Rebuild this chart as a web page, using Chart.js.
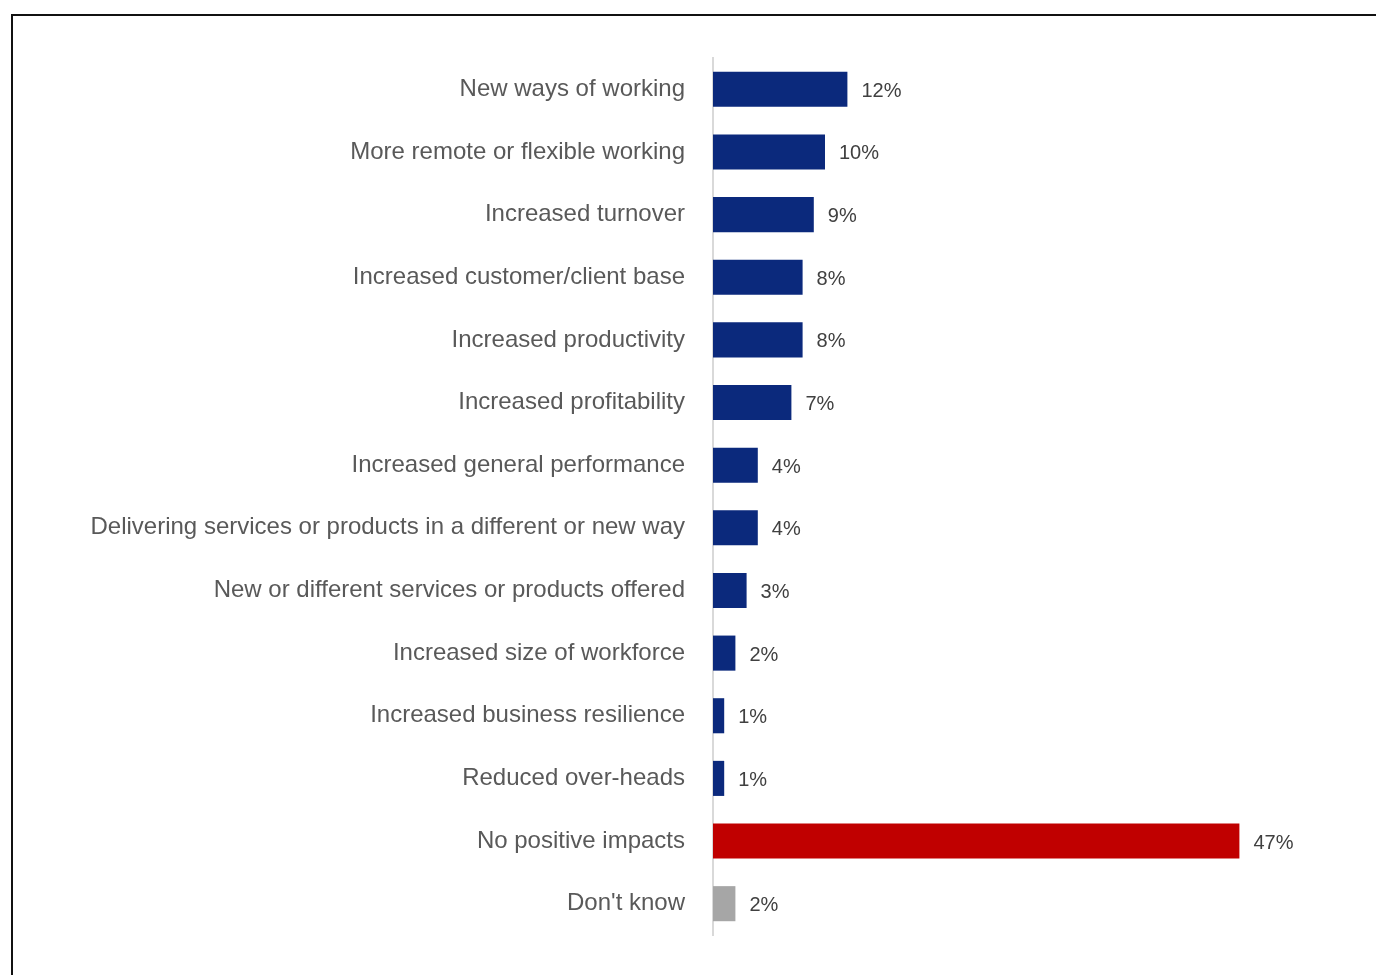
<!DOCTYPE html>
<html>
<head>
<meta charset="utf-8">
<script src="https://cdn.jsdelivr.net/npm/chart.js@4/dist/chart.umd.min.js"></script>
<style>
  html, body { margin: 0; padding: 0; background: #fff; }
  body { width: 1376px; height: 975px; position: relative; overflow: hidden; }
  .frame { position: absolute; left: 11px; top: 14px; width: 1400px; height: 1000px;
           border-left: 2px solid #111; border-top: 2px solid #111; box-sizing: border-box; }
  #wrap { position: absolute; left: 0; top: 0; width: 1376px; height: 975px; }
</style>
</head>
<body>
<div class="frame"></div>
<div id="wrap"><canvas id="chart" width="1376" height="975"></canvas></div>
<script>
// Positive impacts reported, share of respondents (%)
const categories = [
  "New ways of working",
  "More remote or flexible working",
  "Increased turnover",
  "Increased customer/client base",
  "Increased productivity",
  "Increased profitability",
  "Increased general performance",
  "Delivering services or products in a different or new way",
  "New or different services or products offered",
  "Increased size of workforce",
  "Increased business resilience",
  "Reduced over-heads",
  "No positive impacts",
  "Don't know"
];
const values = [12, 10, 9, 8, 8, 7, 4, 4, 3, 2, 1, 1, 47, 2];
const barColors = [
  "#0B297C", "#0B297C", "#0B297C", "#0B297C", "#0B297C", "#0B297C", "#0B297C",
  "#0B297C", "#0B297C", "#0B297C", "#0B297C", "#0B297C", "#C00000", "#A6A6A6"
];

const FONT = "'Liberation Sans', Arial, sans-serif";

// Writes the percentage just past the end of each bar
const valueLabels = {
  id: "valueLabels",
  afterDatasetsDraw(chart) {
    const ctx = chart.ctx;
    const meta = chart.getDatasetMeta(0);
    ctx.save();
    ctx.font = "20px " + FONT;
    ctx.fillStyle = "#404040";
    ctx.textAlign = "left";
    ctx.textBaseline = "middle";
    meta.data.forEach((bar, i) => {
      ctx.fillText(values[i] + "%", bar.x + 14, bar.y + 2);
    });
    ctx.restore();
  }
};

new Chart(document.getElementById("chart"), {
  type: "bar",
  data: {
    labels: categories,
    datasets: [{
      data: values,
      backgroundColor: barColors,
      borderWidth: 0,
      categoryPercentage: 1,
      barPercentage: 0.56
    }]
  },
  options: {
    indexAxis: "y",
    responsive: false,
    animation: false,
    layout: { padding: { left: 0, right: 103, top: 58, bottom: 40 } },
    plugins: {
      legend: { display: false },
      tooltip: { enabled: false }
    },
    scales: {
      x: {
        display: false,
        min: 0,
        max: 50
      },
      y: {
        afterFit(scale) {
          scale.width = 713;
          scale.paddingTop = 0;
          scale.paddingBottom = 0;
        },
        grid: { display: false, drawTicks: false },
        border: { display: true, color: "#D9D9D9", width: 2 },
        ticks: {
          padding: 28,
          color: "#595959",
          font: { family: FONT, size: 24 }
        }
      }
    }
  },
  plugins: [valueLabels]
});
</script>
</body>
</html>
